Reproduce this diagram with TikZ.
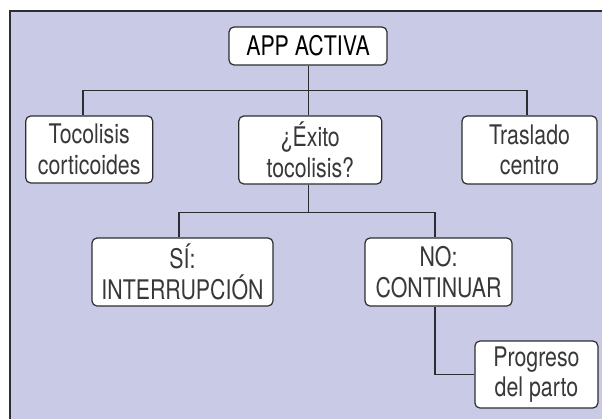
\documentclass[tikz,border=0pt]{standalone}
\usepackage{fontspec}
\setmainfont[FakeStretch=0.79]{TeX Gyre Heros}
\definecolor{bglav}{RGB}{200,202,230}
\definecolor{linegray}{RGB}{45,45,50}
\begin{document}
\begin{tikzpicture}[x=1pt,y=-1pt,
  box/.style={draw=linegray, fill=white, rounded corners=5pt, line width=1.2pt,
    inner sep=0pt, align=center, font=\fontsize{27}{30.5}\selectfont, text=black!78},
  conn/.style={draw=linegray, line width=1.2pt}]
\useasboundingbox (0,0) rectangle (602,418);
\clip (0,0) rectangle (602,418);
\fill[bglav, draw=linegray, line width=1.6pt] (10,11) rectangle (620,440);
% nodes
\node[box, minimum width=158pt, minimum height=38pt, text=black] (app) at (308,46) {APP ACTIVA};
\node[box, minimum width=127pt, minimum height=67pt] (toco) at (89.2,149.5) {Tocolisis\\corticoides};
\node[box, minimum width=143pt, minimum height=68pt] (exito) at (310.3,150) {¿Éxito\\tocolisis?};
\node[box, minimum width=135pt, minimum height=68pt] (tras) at (529.5,150) {Traslado\\centro};
\node[box, minimum width=181pt, minimum height=68pt] (si) at (182.5,272) {SÍ:\\INTERRUPCIÓN};
\node[box, minimum width=147pt, minimum height=68pt] (no) at (438.5,272) {NO:\\CONTINUAR};
\node[box, minimum width=123pt, minimum height=67pt] (prog) at (536.4,374.5) {Progreso\\del parto};
% bus coordinates
\coordinate (b1) at (83,90.7);
\coordinate (b2) at (527,90.7);
\coordinate (bm) at (308.7,90.7);
\coordinate (c1) at (179,212.7);
\coordinate (c2) at (435,212.7);
\coordinate (cm) at (308.7,212.7);
% connectors
\draw[conn] (app.south -| bm) -- (exito.north -| bm);
\draw[conn] (toco.north -| b1) -- (b1) -- (b2) -- (tras.north -| b2);
\draw[conn] (exito.south -| cm) -- (cm);
\draw[conn] (si.north -| c1) -- (c1) -- (c2) -- (no.north -| c2);
\draw[conn] (no.south -| c2) -- (c2 |- prog.west) -- (prog.west);
\end{tikzpicture}
\end{document}
